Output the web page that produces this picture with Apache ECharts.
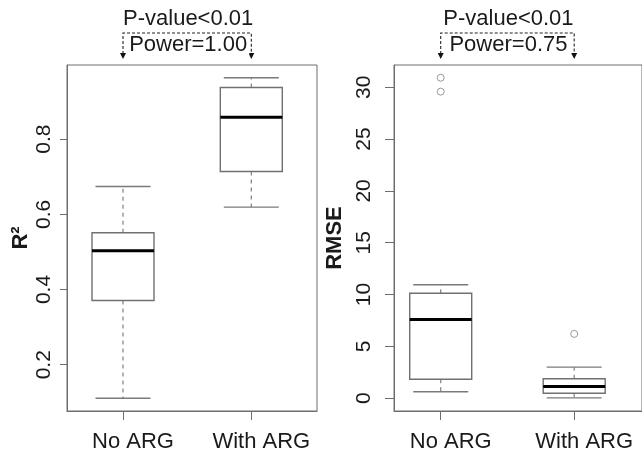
<!DOCTYPE html>
<html>
<head>
<meta charset="utf-8">
<script src="https://cdn.jsdelivr.net/npm/echarts@6/dist/echarts.min.js"></script>
<style>html,body{margin:0;padding:0;background:#fff}#c{width:642px;height:461px}</style>
</head>
<body>
<div id="c"></div>
<script>
// ---- data ----
var categories = ['No ARG', 'With ARG'];
// [lower whisker, Q1, median, Q3, upper whisker]
var r2NoARG   = [0.111, 0.371, 0.503, 0.551, 0.674];
var r2WithARG = [0.619, 0.714, 0.858, 0.937, 0.963];
var rmseNoARG   = [0.62, 1.83, 7.58, 10.12, 10.95];
var rmseWithARG = [0.03, 0.48, 1.13, 1.87, 2.99];
var rmseOutliers = [[1, 30.92], [1, 29.58], [2, 6.2]];
var r2Ticks = [0.2, 0.4, 0.6, 0.8];
var rmseTicks = [0, 5, 10, 15, 20, 25, 30];
var annLeft = ['P-value<0.01', 'Power=1.00'];
var annRight = ['P-value<0.01', 'Power=0.75'];

var FONT = '"Liberation Sans", Arial, Helvetica, sans-serif';
var FRAME = '#6e6e6e';
var TEXT = '#1a1a1a';

function boxData(a, b) { return [[1].concat(a), [2].concat(b)]; }

function renderBox(params, api) {
  var x = api.value(0);
  var c = api.coord([x, api.value(3)]);
  var pLo = api.coord([x, api.value(1)])[1];
  var pQ1 = api.coord([x, api.value(2)])[1];
  var pMed = c[1];
  var pQ3 = api.coord([x, api.value(4)])[1];
  var pHi = api.coord([x, api.value(5)])[1];
  var cx = c[0], hb = 31, hc = 27.5;
  var dashStyle = {stroke: '#808080', lineWidth: 1.2, lineDash: [4, 4]};
  var capStyle = {stroke: '#7a7a7a', lineWidth: 1.4};
  return {type: 'group', children: [
    {type: 'line', shape: {x1: cx, y1: pQ3, x2: cx, y2: pHi}, style: dashStyle},
    {type: 'line', shape: {x1: cx, y1: pQ1, x2: cx, y2: pLo}, style: dashStyle},
    {type: 'line', shape: {x1: cx - hc, y1: pHi, x2: cx + hc, y2: pHi}, style: capStyle},
    {type: 'line', shape: {x1: cx - hc, y1: pLo, x2: cx + hc, y2: pLo}, style: capStyle},
    {type: 'rect', shape: {x: cx - hb, y: pQ3, width: 2 * hb, height: pQ1 - pQ3},
      style: {fill: '#fff', stroke: '#707070', lineWidth: 1.4}},
    {type: 'line', shape: {x1: cx - hb, y1: pMed, x2: cx + hb, y2: pMed},
      style: {stroke: '#000', lineWidth: 3}}
  ]};
}

function xAxisDef(gi, min, max) {
  return {
    type: 'value', gridIndex: gi, min: min, max: max,
    splitLine: {show: false},
    axisLine: {show: true, onZero: false, lineStyle: {color: FRAME, width: 1}},
    axisTick: {show: true, customValues: [1, 2], length: 9, lineStyle: {color: FRAME}},
    axisLabel: {show: true, customValues: [1, 2], margin: 20, fontSize: 22, color: TEXT,
      fontFamily: FONT, padding: [0, 0, 0, 20],
      formatter: function (v) { return categories[Math.round(v) - 1]; }}
  };
}

function yAxisDef(gi, min, max, ticks, name, tickLen, margin, nameGap) {
  return {
    type: 'value', gridIndex: gi, min: min, max: max,
    splitLine: {show: false},
    axisLine: {show: true, onZero: false, lineStyle: {color: FRAME, width: 1}},
    axisTick: {show: true, customValues: ticks, length: tickLen, lineStyle: {color: FRAME}},
    axisLabel: {show: true, customValues: ticks, rotate: 90, margin: margin, fontSize: 21,
      color: TEXT, fontFamily: FONT},
    name: name, nameLocation: 'middle', nameRotate: 90, nameGap: nameGap,
    nameTextStyle: {fontSize: 22, fontWeight: 'bold', color: TEXT, fontFamily: FONT}
  };
}

var chart = echarts.init(document.getElementById('c'), null, {renderer: 'canvas'});
chart.setOption({
  animation: false,
  backgroundColor: '#fff',
  grid: [
    {left: 67, top: 65, width: 250, height: 346, show: true, borderColor: FRAME, borderWidth: 1, backgroundColor: 'transparent'},
    {left: 394, top: 65, width: 262, height: 346, show: true, borderColor: FRAME, borderWidth: 1, backgroundColor: 'transparent'}
  ],
  xAxis: [xAxisDef(0, 0.5635, 2.512), xAxisDef(1, 0.650, 2.508)],
  yAxis: [
    yAxisDef(0, 0.077, 0.997, r2Ticks, 'R\u00B2', 7, 12, 35),
    yAxisDef(1, -1.24, 32.15, rmseTicks, 'RMSE', 9, 19, 48)
  ],
  series: [
    {type: 'custom', xAxisIndex: 0, yAxisIndex: 0, renderItem: renderBox,
      encode: {x: 0, y: [1, 2, 3, 4, 5]}, data: boxData(r2NoARG, r2WithARG)},
    {type: 'custom', xAxisIndex: 1, yAxisIndex: 1, renderItem: renderBox,
      encode: {x: 0, y: [1, 2, 3, 4, 5]}, data: boxData(rmseNoARG, rmseWithARG)},
    {type: 'scatter', xAxisIndex: 1, yAxisIndex: 1, data: rmseOutliers,
      symbol: 'circle', symbolSize: 7,
      itemStyle: {color: '#fff', borderColor: '#808080', borderWidth: 1}}
  ]
});

// annotations: brackets with arrows between the two categories
function annotation(seriesIndex, texts) {
  var p1 = chart.convertToPixel({seriesIndex: seriesIndex}, [1, 0]);
  var p2 = chart.convertToPixel({seriesIndex: seriesIndex}, [2, 0]);
  var x1 = p1[0], x2 = p2[0], mid = (x1 + x2) / 2 + 1;
  var yTop = 33, yTip = 59;
  var dash = {stroke: '#222', lineWidth: 1.1, lineDash: [3, 2], fill: null};
  return [
    {type: 'polyline', shape: {points: [[x1, yTip - 5], [x1, yTop], [x2, yTop], [x2, yTip - 5]]}, style: dash},
    {type: 'polygon', shape: {points: [[x1 - 3, yTip - 6], [x1 + 3, yTip - 6], [x1, yTip]]}, style: {fill: '#111'}},
    {type: 'polygon', shape: {points: [[x2 - 3, yTip - 6], [x2 + 3, yTip - 6], [x2, yTip]]}, style: {fill: '#111'}},
    {type: 'text', x: mid, y: 19, style: {text: texts[0], fontSize: 22, fontFamily: FONT, fill: TEXT,
      align: 'center', verticalAlign: 'middle'}},
    {type: 'text', x: mid, y: 45, style: {text: texts[1], fontSize: 22, fontFamily: FONT, fill: TEXT,
      align: 'center', verticalAlign: 'middle', backgroundColor: '#fff', padding: [0, 2]}}
  ];
}
chart.setOption({graphic: annotation(0, annLeft).concat(annotation(1, annRight))});
</script>
</body>
</html>
